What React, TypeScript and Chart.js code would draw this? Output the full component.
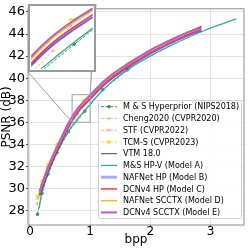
import React, { useEffect, useRef } from 'react';
import { Chart, registerables } from 'chart.js';
import { drawPoint } from 'chart.js/helpers';

Chart.register(...registerables);
Chart.defaults.font.family = 'DejaVu Sans';
Chart.defaults.color = '#000';

// ---- data ----
const hpBpp = [0.125, 0.2, 0.3, 0.45, 0.64, 0.91, 1.21, 1.62];
const hpPsnr = [27.65, 29.55, 31.3, 33.25, 35.15, 37.0, 38.95, 40.75];

const chengBpp = [0.12, 0.183, 0.271, 0.414, 0.595, 0.806];
const chengPsnr = [28.6, 29.95, 31.3, 33.05, 34.9, 36.74];

const stfBpp = [0.124, 0.191, 0.291, 0.441, 0.649, 0.893];
const stfPsnr = [29.1, 30.4, 31.95, 33.75, 35.75, 37.73];

const tcmBpp = [0.13, 0.2, 0.3, 0.45, 0.65, 0.894];
const tcmPsnr = [29.3, 30.65, 32.2, 34.0, 35.95, 38.0];

const modelBpp = [0.16, 0.2, 0.3, 0.4, 0.5, 0.6, 0.7, 0.8, 0.9, 1.0, 1.2, 1.4, 1.6, 1.8, 2.0, 2.2, 2.4, 2.6, 2.85];
const vtmPsnr = [29.4, 30.1, 31.6, 32.92, 34.08, 35.23, 36.22, 37.02, 37.64, 38.19, 39.35, 40.28, 41.06, 41.8, 42.48, 43.06, 43.6, 44.12, 44.72];
const modelBPsnr = [29.35, 30.05, 31.55, 32.85, 34.0, 35.13, 36.13, 36.93, 37.55, 38.1, 39.22, 40.12, 40.87, 41.57, 42.23, 42.8, 43.32, 43.82, 44.32];
const modelCPsnr = [29.45, 30.15, 31.65, 32.95, 34.1, 35.25, 36.23, 37.03, 37.65, 38.2, 39.33, 40.23, 40.98, 41.68, 42.34, 42.9, 43.42, 43.92, 44.45];
const modelDPsnr = [29.62, 30.32, 31.82, 33.12, 34.27, 35.42, 36.42, 37.22, 37.84, 38.38, 39.5, 40.4, 41.15, 41.84, 42.5, 43.05, 43.57, 44.06, 44.58];
const modelEPsnr = [29.7, 30.4, 31.9, 33.2, 34.35, 35.5, 36.5, 37.3, 37.92, 38.45, 39.58, 40.48, 41.22, 41.9, 42.55, 43.1, 43.62, 44.1, 44.62];

const modelABpp = [0.15, 0.2, 0.3, 0.45, 0.64, 0.8, 1.0, 1.2, 1.4, 1.62, 1.8, 2.0, 2.32, 2.6, 2.9, 3.2, 3.43];
const modelAPsnr = [28.2, 29.65, 31.35, 33.3, 35.2, 36.35, 37.65, 38.85, 39.85, 40.75, 41.38, 42.0, 42.9, 43.62, 44.32, 44.93, 45.38];

const xTicks = [0, 1, 2, 3];
const yTicks = [28, 30, 32, 34, 36, 38, 40, 42, 44, 46];
const xRange = [-0.033, 3.557];
const yRange = [26.68, 46.29];
const insetX = [0.7, 1.0];
const insetY = [36, 38.5];

interface Series {
  label: string;
  x: number[];
  y: number[];
  color: string;
  width: number;
  dash?: number[];
  point?: string;
  radius?: number;
  smooth?: boolean;
  legendWidth?: number;
  legendColor?: string;
}

const series: Series[] = [
  { label: 'M & S Hyperprior (NIPS2018)', x: hpBpp, y: hpPsnr, color: '#2a9a3a', width: 1, dash: [3, 1.6], point: 'circle', radius: 1.3 },
  { label: 'Cheng2020 (CVPR2020)', x: chengBpp, y: chengPsnr, color: 'rgba(222,172,125,0.75)', width: 1, dash: [3, 1.6], point: 'cross', radius: 2 },
  { label: 'STF (CVPR2022)', x: stfBpp, y: stfPsnr, color: 'rgba(250,128,114,0.7)', width: 1, dash: [3, 1.6], point: 'crossRot', radius: 2 },
  { label: 'TCM-S (CVPR2023)', x: tcmBpp, y: tcmPsnr, color: 'rgba(255,212,0,0.8)', width: 1, dash: [3, 1.6], point: 'star', radius: 2.2 },
  { label: 'VTM 18.0', x: modelBpp, y: vtmPsnr, color: 'rgba(40,40,40,0.85)', width: 1, smooth: true },
  { label: 'M&S HP-V (Model A)', x: modelABpp, y: modelAPsnr, color: '#3aa89d', width: 1.3, smooth: true },
  { label: 'NAFNet HP (Model B)', x: modelBpp, y: modelBPsnr, color: 'rgba(50,50,255,0.75)', width: 2, smooth: true, legendWidth: 3, legendColor: 'rgba(110,110,255,0.6)' },
  { label: 'DCNv4 HP (Model C)', x: modelBpp, y: modelCPsnr, color: '#ff3a3a', width: 1.5, smooth: true },
  { label: 'NAFNet SCCTX (Model D)', x: modelBpp, y: modelDPsnr, color: '#ffb52a', width: 1.5, smooth: true },
  { label: 'DCNv4 SCCTX (Model E)', x: modelBpp, y: modelEPsnr, color: '#b45fc4', width: 2, smooth: true },
];

function makeDatasets(): any[] {
  return series.map((s, i) => ({
    label: s.label,
    data: s.x.map((xv, j) => ({ x: xv, y: s.y[j] })),
    showLine: true,
    borderColor: s.color,
    backgroundColor: s.color,
    borderWidth: s.width,
    borderDash: s.dash || [],
    pointRadius: s.radius || 0,
    pointHoverRadius: 0,
    pointStyle: s.point || 'circle',
    pointBorderWidth: 1,
    pointBackgroundColor: s.color,
    pointBorderColor: s.color,
    cubicInterpolationMode: s.smooth ? 'monotone' : 'default',
    tension: 0,
    order: 20 - i,
  }));
}

const INSET = { left: 28, top: 4, width: 68, height: 68 };

export default function App() {
  const mainRef = useRef<HTMLCanvasElement>(null);
  const insetRef = useRef<HTMLCanvasElement>(null);

  useEffect(() => {
    const gridColor = '#e3e3e3';
    const frameColor = '#8c8c8c';

    const mainPlugin = {
      id: 'mainDecor',
      afterDatasetsDraw(chart: any) {
        const { ctx, chartArea, scales } = chart;
        ctx.save();
        ctx.strokeStyle = frameColor;
        ctx.lineWidth = 1;
        ctx.strokeRect(chartArea.left, chartArea.top, chartArea.right - chartArea.left, chartArea.bottom - chartArea.top);
        const x0 = scales.x.getPixelForValue(insetX[0]);
        const x1 = scales.x.getPixelForValue(insetX[1]);
        const y0 = scales.y.getPixelForValue(insetY[0]);
        const y1 = scales.y.getPixelForValue(insetY[1]);
        ctx.strokeStyle = '#a0a0a0';
        ctx.lineWidth = 1;
        ctx.strokeRect(x0, y1, x1 - x0, y0 - y1);
        ctx.beginPath();
        ctx.moveTo(INSET.left, INSET.top + INSET.height);
        ctx.lineTo(x0, y0);
        ctx.moveTo(INSET.left + INSET.width, INSET.top);
        ctx.lineTo(x1, y1);
        ctx.stroke();
        ctx.restore();
      },
      afterDraw(chart: any) {
        const { ctx } = chart;
        ctx.save();
        const bx = 98, by = 100, bw = 143, bh = 118;
        ctx.beginPath();
        ctx.roundRect(bx + 0.5, by + 0.5, bw, bh, 2);
        ctx.fillStyle = 'rgba(255,255,255,0.85)';
        ctx.fill();
        ctx.strokeStyle = '#d0d0d0';
        ctx.lineWidth = 1;
        ctx.stroke();
        series.forEach((s, i) => {
          const y = 106.7 + i * 11.75;
          ctx.save();
          ctx.strokeStyle = s.legendColor || s.color;
          ctx.lineWidth = s.legendWidth || s.width;
          ctx.setLineDash(s.dash || []);
          ctx.beginPath();
          ctx.moveTo(101, y);
          ctx.lineTo(117, y);
          ctx.stroke();
          ctx.setLineDash([]);
          if (s.point) {
            ctx.fillStyle = s.color;
            ctx.strokeStyle = s.color;
            ctx.lineWidth = 1;
            drawPoint(ctx, { pointStyle: s.point as any, rotation: 0, radius: s.radius || 2, borderWidth: 1 } as any, 109, y);
          }
          ctx.restore();
          ctx.fillStyle = '#000';
          ctx.font = '8px "DejaVu Sans"';
          ctx.textBaseline = 'middle';
          ctx.textAlign = 'left';
          ctx.fillText(s.label, 123, y + 0.5);
        });
        ctx.restore();
      },
    };

    const main = new Chart(mainRef.current as HTMLCanvasElement, {
      type: 'scatter',
      data: { datasets: makeDatasets() },
      options: {
        animation: false,
        responsive: false,
        devicePixelRatio: 1,
        events: [],
        layout: { padding: { top: 4, right: 5, left: 0, bottom: 0 } },
        plugins: { legend: { display: false }, tooltip: { enabled: false } },
        scales: {
          x: {
            type: 'linear',
            min: xRange[0],
            max: xRange[1],
            afterBuildTicks: (s: any) => { s.ticks = xTicks.map((v) => ({ value: v })); },
            afterFit: (s: any) => { s.height = 24; },
            grid: { color: gridColor, tickColor: '#444', tickLength: 2, lineWidth: 1 },
            border: { display: false },
            ticks: { font: { size: 12 }, padding: -2, maxRotation: 0, color: '#000' },
            title: { display: true, text: 'bpp', font: { size: 12 }, padding: { top: 0, bottom: 2 }, color: '#000' },
          },
          y: {
            type: 'linear',
            min: yRange[0],
            max: yRange[1],
            afterBuildTicks: (s: any) => { s.ticks = yTicks.map((v) => ({ value: v })); },
            afterFit: (s: any) => { s.width = 28; },
            grid: { color: gridColor, tickColor: '#444', tickLength: 2, lineWidth: 1 },
            border: { display: false },
            ticks: { font: { size: 13 }, padding: 1, color: '#000' },
            title: { display: true, text: 'PSNR (dB)', font: { size: 12 }, padding: { top: 0, bottom: 0 }, color: '#000' },
          },
        },
      },
      plugins: [mainPlugin],
    } as any);

    const insetPlugin = {
      id: 'insetDecor',
      beforeDraw(chart: any) {
        const { ctx, width, height } = chart;
        ctx.save();
        ctx.fillStyle = '#fff';
        ctx.fillRect(0, 0, width, height);
        ctx.restore();
      },
      afterDraw(chart: any) {
        const { ctx, width, height } = chart;
        ctx.save();
        ctx.strokeStyle = '#9a9a9a';
        ctx.lineWidth = 2;
        ctx.strokeRect(1, 1, width - 2, height - 2);
        ctx.restore();
      },
    };

    const inset = new Chart(insetRef.current as HTMLCanvasElement, {
      type: 'scatter',
      data: { datasets: makeDatasets() },
      options: {
        animation: false,
        responsive: false,
        devicePixelRatio: 1,
        events: [],
        layout: { padding: 0 },
        plugins: { legend: { display: false }, tooltip: { enabled: false } },
        scales: {
          x: { type: 'linear', min: insetX[0], max: insetX[1], display: false },
          y: { type: 'linear', min: insetY[0], max: insetY[1], display: false },
        },
      },
      plugins: [insetPlugin],
    } as any);

    return () => {
      main.destroy();
      inset.destroy();
    };
  }, []);

  return (
    <div style={{ position: 'absolute', left: 0, top: 0, width: 249, height: 249, background: '#fff' }}>
      <canvas ref={mainRef} width={249} height={249} style={{ position: 'absolute', left: 0, top: 0, width: 249, height: 249 }} />
      <canvas
        ref={insetRef}
        width={INSET.width}
        height={INSET.height}
        style={{ position: 'absolute', left: INSET.left, top: INSET.top, width: INSET.width, height: INSET.height }}
      />
    </div>
  );
}
